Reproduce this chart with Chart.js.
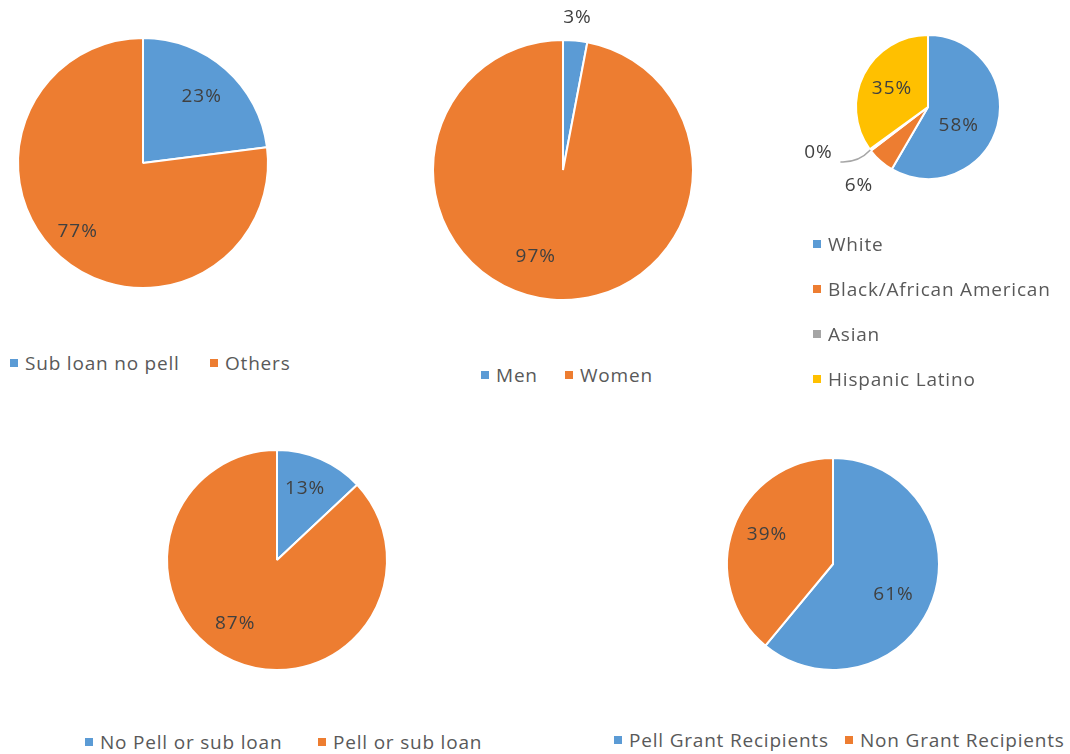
<!DOCTYPE html>
<html>
<head>
<meta charset="utf-8">
<script src="https://cdn.jsdelivr.net/npm/chart.js@4/dist/chart.umd.min.js"></script>
<style>
  body { margin: 0; width: 1070px; height: 754px; background: #fff; position: relative; overflow: hidden; font-family: "Open Sans", sans-serif; }
  .pie { position: absolute; }
  .item { position: absolute; display: flex; align-items: center; height: 26px; font-size: 19px; letter-spacing: 0.8px; color: #595959; white-space: nowrap; }
  .item .box { display: inline-block; width: 8px; height: 8px; margin-right: 7px; }
</style>
</head>
<body>
<script>
const blue = '#5B9BD5', orange = '#ED7D31', gray = '#A5A5A5', yellow = '#FFC000';

// data
const loanLabels = ['Sub loan no pell', 'Others'];
const loanValues = [23, 77];
const genderLabels = ['Men', 'Women'];
const genderValues = [3, 97];
const raceLabels = ['White', 'Black/African American', 'Asian', 'Hispanic Latino'];
const raceValues = [58.4, 6.2, 0.4, 35.0];
const pellLabels = ['No Pell or sub loan', 'Pell or sub loan'];
const pellValues = [13, 87];
const grantLabels = ['Pell Grant Recipients', 'Non Grant Recipients'];
const grantValues = [61, 39];

// percent labels; dist = fraction of radius, shift = degrees added to slice middle
function labelPlugin(place) {
    return {
        id: 'pieLabels',
        afterDatasetsDraw(chart) {
            const ctx = chart.ctx;
            const ds = chart.data.datasets[0];
            const total = ds.data.reduce((a, b) => a + b, 0);
            const arcs = chart.getDatasetMeta(0).data;
            ctx.save();
            ctx.font = '19px "Open Sans", sans-serif';
            ctx.letterSpacing = '1px';
            ctx.fillStyle = '#404040';
            ctx.textAlign = 'center';
            ctx.textBaseline = 'middle';
            arcs.forEach((arc, i) => {
                const p = place[i];
                const a = (arc.startAngle + arc.endAngle) / 2;
                const mid = a + (p.shift || 0) * Math.PI / 180;
                const r = arc.outerRadius * p.dist;
                const x = arc.x + Math.cos(mid) * r;
                const y = arc.y + Math.sin(mid) * r;
                if (p.leader) {
                    ctx.strokeStyle = '#A6A6A6';
                    ctx.lineWidth = 1.5;
                    ctx.beginPath();
                    ctx.moveTo(arc.x + Math.cos(a) * arc.outerRadius, arc.y + Math.sin(a) * arc.outerRadius);
                    ctx.quadraticCurveTo(x + 40, y + 10, x + 22, y + 9);
                    ctx.stroke();
                }
                ctx.fillText(Math.round(ds.data[i] / total * 100) + '%', x, y);
            });
            ctx.restore();
        }
    };
}

function makePie(cx, cy, radius, size, labels, values, colors, place) {
    const div = document.createElement('div');
    div.className = 'pie';
    div.style.left = (cx - size / 2) + 'px';
    div.style.top = (cy - size / 2) + 'px';
    const canvas = document.createElement('canvas');
    canvas.width = size;
    canvas.height = size;
    div.appendChild(canvas);
    document.body.appendChild(div);
    new Chart(canvas, {
        type: 'pie',
        data: {
            labels: labels,
            datasets: [{
                data: values,
                backgroundColor: colors,
                borderColor: '#fff',
                borderWidth: 2,
                hoverOffset: 0
            }]
        },
        options: {
            responsive: false,
            animation: false,
            events: [],
            radius: radius,
            layout: { padding: 0 },
            plugins: {
                legend: { display: false },
                tooltip: { enabled: false }
            }
        },
        plugins: [labelPlugin(place)]
    });
}

// legend entries placed at given box positions (x of the square, y of the text middle)
function makeLegend(xs, ys, labels, colors) {
    labels.forEach((l, i) => {
        const item = document.createElement('div');
        item.className = 'item';
        item.style.left = xs[i] + 'px';
        item.style.top = (ys[i] - 13) + 'px';
        item.innerHTML = '<span class="box" style="background:' + colors[i] + '"></span>' + l;
        document.body.appendChild(item);
    });
}

makePie(143, 163, 125, 300, loanLabels, loanValues, [blue, orange],
    [{ dist: 0.71 }, { dist: 0.76, shift: 2 }]);
makePie(563, 170, 130, 350, genderLabels, genderValues, [blue, orange],
    [{ dist: 1.18 }, { dist: 0.70, shift: 12 }]);
makePie(928, 107, 72, 280, raceLabels, raceValues, [blue, orange, gray, yellow],
    [{ dist: 0.50, shift: 16 }, { dist: 1.45 }, { dist: 1.65, shift: 14, leader: true }, { dist: 0.56 }]);
makePie(277, 560, 110, 280, pellLabels, pellValues, [blue, orange],
    [{ dist: 0.70, shift: -2 }, { dist: 0.69, shift: 10 }]);
makePie(833, 564, 106, 280, grantLabels, grantValues, [blue, orange],
    [{ dist: 0.64, shift: 7 }, { dist: 0.68, shift: 4 }]);

makeLegend([10, 210], [363, 363], loanLabels, [blue, orange]);
makeLegend([481, 565], [375, 375], genderLabels, [blue, orange]);
makeLegend([813, 813, 813, 813], [244, 289, 334, 379], raceLabels, [blue, orange, gray, yellow]);
makeLegend([85, 318], [742, 742], pellLabels, [blue, orange]);
makeLegend([614, 845], [740, 740], grantLabels, [blue, orange]);
</script>
</body>
</html>
